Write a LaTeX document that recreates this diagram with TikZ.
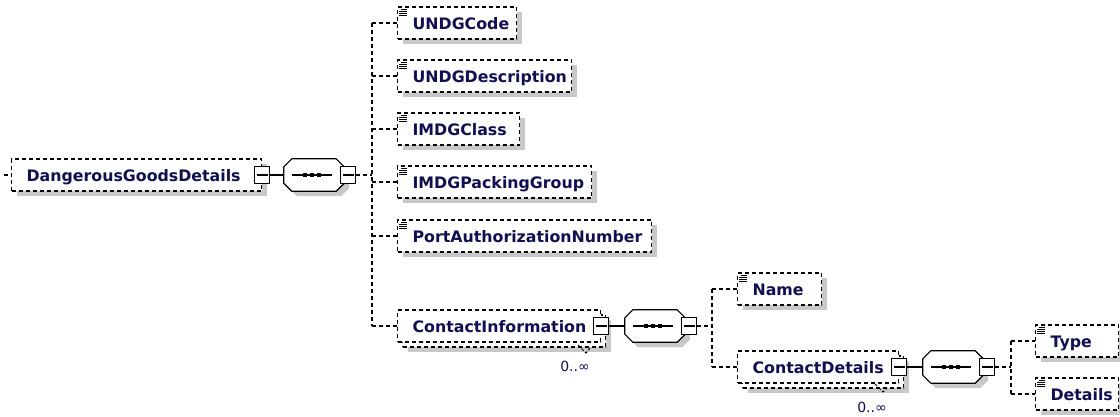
\documentclass[tikz,border=0pt]{standalone}
\usepackage{fontspec}
\setmainfont{DejaVu Sans}
\usetikzlibrary{shadows}
\definecolor{txt}{RGB}{16,16,80}
\definecolor{shd}{RGB}{200,200,200}
\newcommand\el[2]{\makebox[#1pt][l]{\hspace{15pt}#2}}
\newcommand\elicon[1]{%
  \foreach \ya/\xa in {3/4,5/2,7/2,9/2}{%
    \draw[line width=1pt] ([xshift=\xa pt,yshift=-\ya pt]#1.north west) -- ([xshift=10pt,yshift=-\ya pt]#1.north west);}}
% octagon outline of a compositor node #1, shifted by (#2,#3) pt
\newcommand\octpath[3]{%
  ([xshift=#2pt+8pt,yshift=#3pt]#1.north west) -- ([xshift=#2pt-8pt,yshift=#3pt]#1.north east) --
  ([xshift=#2pt,yshift=#3pt-8pt]#1.north east) -- ([xshift=#2pt,yshift=#3pt+8pt]#1.south east) --
  ([xshift=#2pt-8pt,yshift=#3pt]#1.south east) -- ([xshift=#2pt+8pt,yshift=#3pt]#1.south west) --
  ([xshift=#2pt,yshift=#3pt+8pt]#1.south west) -- ([xshift=#2pt,yshift=#3pt-8pt]#1.north west) -- cycle}
\newcommand\seqdraw[1]{%
  \fill[shd] \octpath{#1}{5}{-5};
  \draw[line width=1.2pt, fill=white] \octpath{#1}{0}{0};
  \draw[line width=1.2pt] ([xshift=8pt]#1.west) -- ([xshift=-12pt]#1.east);
  \foreach \xa/\xb in {-11/-7,-4/0,3/7}{%
    \fill ([xshift=\xa pt,yshift=-2pt]#1.center) rectangle ([xshift=\xb pt,yshift=2pt]#1.center);}}
\tikzset{
  dsh/.style={dash pattern=on 4pt off 3pt},
  elem/.style={draw, dsh, line width=1.2pt, fill=white, inner sep=0pt, minimum height=32pt,
    text height=14pt, text depth=2pt, anchor=west,
    font=\fontsize{15.8}{18}\selectfont\bfseries, text=txt},
  shad/.style={drop shadow={shadow xshift=5pt, shadow yshift=-5pt, fill=shd, opacity=1}},
  seq/.style={rectangle, minimum width=60pt, minimum height=32pt, inner sep=0pt},
  mbox/.style={draw, line width=1.2pt, fill=white, inner sep=0pt, minimum width=15pt, minimum height=17pt,
    path picture={\draw[line width=1.2pt] ([xshift=2pt]path picture bounding box.west) -- ([xshift=-2pt]path picture bounding box.east);}},
  solidc/.style={line width=1.2pt},
  dashc/.style={line width=1.2pt, dsh},
  mult/.style={font=\fontsize{14}{16}\selectfont, text=txt, inner sep=0pt},
}
\begin{document}
\begin{tikzpicture}[x=1pt,y=-1pt]
\useasboundingbox[fill=white] (0,0) rectangle (1120,416);
% root
\node[elem, shad] (dgd) at (11,175) {\el{250}{DangerousGoodsDetails}};
\node[mbox] (dgdx) at (dgd.east) {};
\node[seq] (s1) at (314,175) {};
\seqdraw{s1}
\node[mbox] (s1x) at ([xshift=4pt]s1.east) {};
\coordinate (b1) at (372,175);
\coordinate (in) at (4,175);
% level 1
\node[elem, shad] (undgc) at (397,23) {\el{119}{UNDGCode}};
\node[elem, shad] (undgd) at (397,76) {\el{174}{UNDGDescription}};
\node[elem, shad] (imdgc) at (397,129) {\el{122}{IMDGClass}};
\node[elem, shad] (imdgp) at (397,182) {\el{194}{IMDGPackingGroup}};
\node[elem, shad] (pan) at (397,236) {\el{254}{PortAuthorizationNumber}};
\node[elem, shad] (cib) at (402,331) {\el{203}{}};
\node[elem] (ci) at (397,326) {\el{203}{ContactInformation}};
\node[mbox] (cix) at (ci.east) {};
\node[mult] (cim) at (575,366) {0..∞};
\node[seq] (s2) at (655,326) {};
\seqdraw{s2}
\node[mbox] (s2x) at ([xshift=4pt]s2.east) {};
\coordinate (b2) at (712,326);
% level 2
\node[elem, shad] (name) at (737,289) {\el{84}{Name}};
\node[elem, shad] (cdb) at (742,372) {\el{161}{}};
\node[elem] (cd) at (737,367) {\el{161}{ContactDetails}};
\node[mbox] (cdx) at (cd.east) {};
\node[mult] (cdm) at (872,407) {0..∞};
\node[seq] (s3) at (953,367) {};
\seqdraw{s3}
\node[mbox] (s3x) at ([xshift=4pt]s3.east) {};
\coordinate (b3) at (1011,367);
% level 3
\node[elem, shad] (type) at (1035,341) {\el{83}{Type}};
\node[elem, shad] (det) at (1035,394) {\el{83}{Details}};
% icons
\foreach \n in {undgc,undgd,imdgc,imdgp,pan,name,type,det}{\elicon{\n}}
% connectors
\draw[dashc] (in) -- (dgd.west);
\draw[solidc] (dgdx.east) -- (s1.west);
\draw[dashc] (s1x.east) -- (b1);
\draw[dashc] (b1 |- undgc.west) -- (b1 |- ci.west);
\foreach \n in {undgc,undgd,imdgc,imdgp,pan,ci}{\draw[dashc] (b1 |- \n.west) -- (\n.west);}
\draw[solidc] (cix.east) -- (s2.west);
\draw[dashc] (s2x.east) -- (b2);
\draw[dashc] (b2 |- name.west) -- (b2 |- cd.west);
\foreach \n in {name,cd}{\draw[dashc] (b2 |- \n.west) -- (\n.west);}
\draw[solidc] (cdx.east) -- (s3.west);
\draw[dashc] (s3x.east) -- (b3);
\draw[dashc] (b3 |- type.west) -- (b3 |- det.west);
\foreach \n in {type,det}{\draw[dashc] (b3 |- \n.west) -- (\n.west);}
% multiplicity marks
\draw[line width=1pt, dash pattern=on 3pt off 2pt] ([xshift=3pt,yshift=21pt]cim.center) -- ([xshift=11pt,yshift=13pt]cim.center) -- ([xshift=15pt,yshift=18pt]cim.center);
\draw[line width=1pt, dash pattern=on 3pt off 2pt] ([xshift=3pt,yshift=23pt]cdm.center) -- ([xshift=11pt,yshift=15pt]cdm.center) -- ([xshift=15pt,yshift=19pt]cdm.center);
\end{tikzpicture}
\end{document}
